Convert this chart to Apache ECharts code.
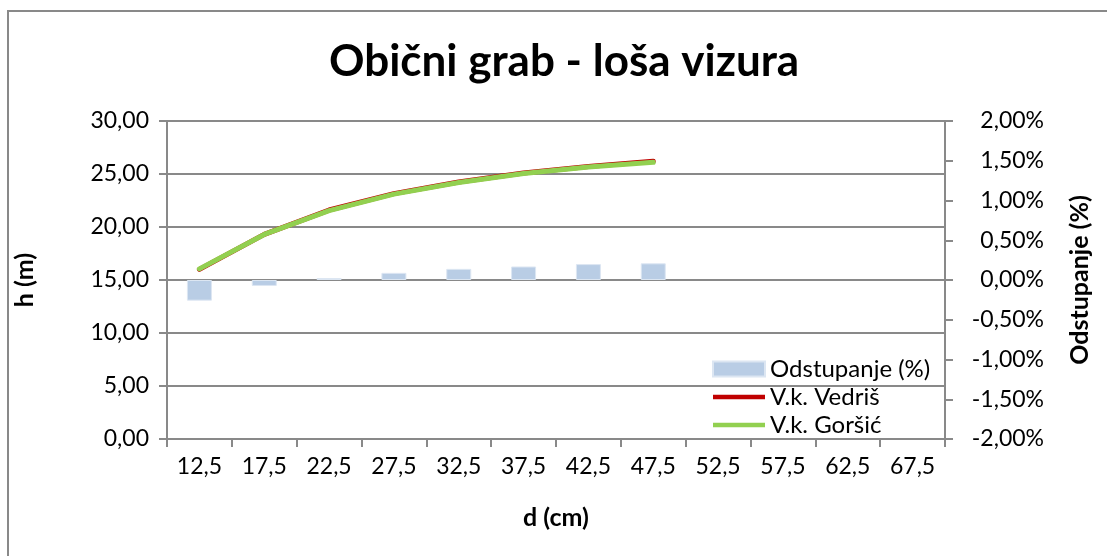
<!DOCTYPE html>
<html>
<head>
<meta charset="utf-8">
<script src="https://cdn.jsdelivr.net/npm/echarts@6/dist/echarts.min.js"></script>
<style>
  html, body { margin: 0; padding: 0; background: #fff; }
  #wrap { position: relative; width: 1107px; height: 556px; }
  #chart { width: 1107px; height: 556px; }
  #frame {
    position: absolute; left: 7px; top: 10px; width: 1110px; height: 560px;
    border: 2px solid #898989; box-sizing: border-box; pointer-events: none;
  }
</style>
</head>
<body>
<div id="wrap">
  <div id="chart"></div>
  <div id="frame"></div>
</div>
<script>
// d (cm) classes
const diameters = ['12,5', '17,5', '22,5', '27,5', '32,5', '37,5', '42,5', '47,5', '52,5', '57,5', '62,5', '67,5']
// heights h (m)
const vedris = [16.0, 19.3, 21.6, 23.15, 24.25, 25.1, 25.7, 26.2]
const gorsic = [16.05, 19.3, 21.55, 23.1, 24.2, 25.05, 25.65, 26.1]
// deviation in %
const odstupanje = [-0.26, -0.075, 0.025, 0.09, 0.14, 0.17, 0.2, 0.21]

const FONT = 'Lato'
const fmtComma = (v, d) => v.toFixed(d).replace('.', ',')
// thick line legend icon: the two bare moveTo points keep the full 52x15 box
const LINE_ICON = 'path://M0,0M52,15M0,5.25L52,5.25L52,9.75L0,9.75Z'

const chart = echarts.init(document.getElementById('chart'), null, { renderer: 'canvas' })

chart.setOption({
  animation: false,
  backgroundColor: '#fff',
  textStyle: { fontFamily: FONT, color: '#000' },
  title: {
    text: 'Obični grab - loša vizura',
    left: 324,
    top: 35,
    textStyle: { fontFamily: FONT, fontSize: 44, fontWeight: 'bold', color: '#000' }
  },
  legend: {
    orient: 'vertical',
    left: 707,
    top: 352,
    itemWidth: 52,
    itemHeight: 15,
    itemGap: 4,
    textStyle: { fontFamily: FONT, fontSize: 24, color: '#000' },
    data: [
      { name: 'Odstupanje (%)', icon: 'rect' },
      { name: 'V.k. Vedriš', icon: LINE_ICON },
      { name: 'V.k. Goršić', icon: LINE_ICON }
    ]
  },
  grid: { left: 167, right: 162, top: 121, bottom: 117 },
  xAxis: {
    type: 'category',
    data: diameters,
    boundaryGap: true,
    name: 'd (cm)',
    nameLocation: 'middle',
    nameGap: 66,
    nameTextStyle: { fontFamily: FONT, fontSize: 25, fontWeight: 'bold', color: '#000' },
    axisLine: { lineStyle: { color: '#898989', width: 2 } },
    axisTick: { show: true, interval: 0, length: 8, lineStyle: { color: '#898989', width: 2 } },
    axisLabel: { interval: 0, margin: 16, fontFamily: FONT, fontSize: 23, color: '#000' }
  },
  yAxis: [{
    type: 'value',
    min: 0,
    max: 30,
    interval: 5,
    name: 'h (m)',
    nameLocation: 'middle',
    nameRotate: 90,
    nameGap: 130,
    nameTextStyle: { fontFamily: FONT, fontSize: 25, fontWeight: 'bold', color: '#000' },
    axisLine: { show: true, lineStyle: { color: '#898989', width: 2 } },
    axisTick: { show: true, length: 8, lineStyle: { color: '#898989', width: 2 } },
    axisLabel: { margin: 18, fontFamily: FONT, fontSize: 23, color: '#000', formatter: v => fmtComma(v, 2) },
    splitLine: { show: true, lineStyle: { color: '#898989', width: 2 } }
  }, {
    type: 'value',
    position: 'right',
    min: -2,
    max: 2,
    interval: 0.5,
    name: 'Odstupanje (%)',
    nameLocation: 'middle',
    nameRotate: 90,
    nameGap: 122,
    nameTextStyle: { fontFamily: FONT, fontSize: 25, fontWeight: 'bold', color: '#000' },
    axisLine: { show: true, lineStyle: { color: '#898989', width: 2 } },
    axisTick: { show: true, length: 8, lineStyle: { color: '#898989', width: 2 } },
    axisLabel: { margin: 99, align: 'right', fontFamily: FONT, fontSize: 23, color: '#000', formatter: v => fmtComma(v, 2) + '%' },
    splitLine: { show: false }
  }],
  series: [{
    name: 'Odstupanje (%)',
    type: 'bar',
    yAxisIndex: 1,
    data: odstupanje,
    barWidth: 25,
    itemStyle: { color: '#B9CDE5', borderColor: '#DCE6F2', borderWidth: 1 }
  }, {
    name: 'V.k. Vedriš',
    type: 'line',
    yAxisIndex: 0,
    data: vedris,
    symbol: 'none',
    lineStyle: { color: '#C00000', width: 5, cap: 'round' },
    itemStyle: { color: '#C00000' }
  }, {
    name: 'V.k. Goršić',
    type: 'line',
    yAxisIndex: 0,
    data: gorsic,
    symbol: 'none',
    lineStyle: { color: '#92D050', width: 5, cap: 'round' },
    itemStyle: { color: '#92D050' }
  }]
})
</script>
</body>
</html>
